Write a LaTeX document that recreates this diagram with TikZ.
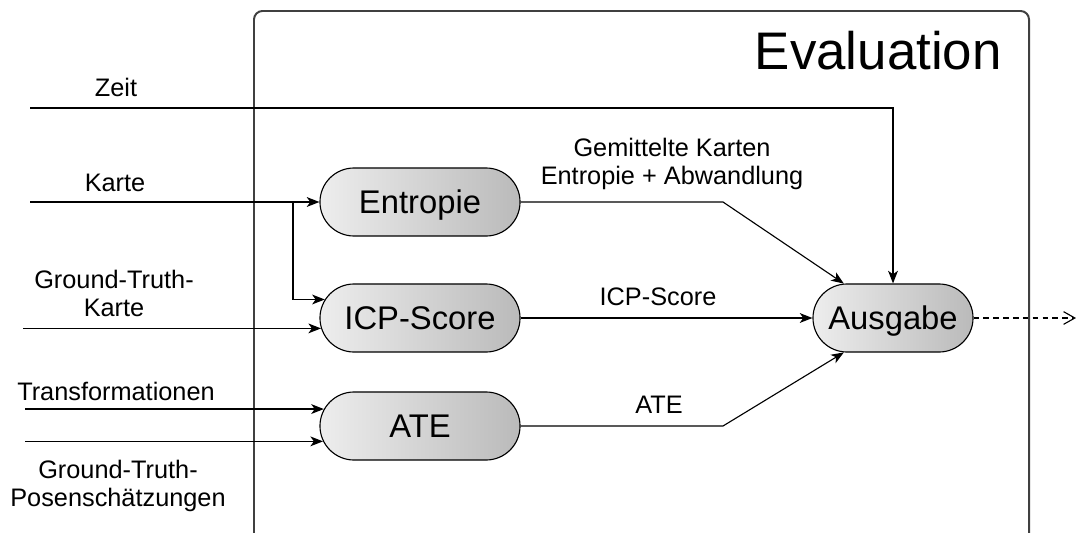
\documentclass[tikz,border=0pt]{standalone}
\usepackage{fontspec}
\setmainfont{Liberation Sans}
\usetikzlibrary{shapes.misc,arrows.meta,positioning}

\begin{document}
\begin{tikzpicture}[x=0.025cm, y=-0.025cm,
  modul/.style={rounded rectangle, draw=black, line width=0.8pt,
                left color=black!7, right color=black!27,
                minimum width=5cm, minimum height=1.7cm, inner sep=0pt,
                text height=16.7pt, text depth=0pt,
                font=\fontsize{23.3}{26}\selectfont},
  lbl/.style={font=\fontsize{18}{20}\selectfont, inner sep=0pt, align=center},
  pfeil/.style={-{Stealth[length=9pt,width=7pt,inset=2.5pt]}, line width=0.8pt}]

\useasboundingbox (0,0) rectangle (1076,532);
\clip (0,0) rectangle (1076,532);

% Rahmen Evaluation
\draw[line width=1.4pt, black!75, rounded corners=6pt] (254,11) rectangle (1029,570);
\node[anchor=base east, inner sep=0pt, font=\fontsize{37.6}{40}\selectfont] (titel) at (1002,70) {Evaluation};

% Module
\node[modul] (entropie) at (420,202) {Entropie};
\node[modul] (icp) at (420,318) {ICP-Score};
\node[modul] (ate) at (420,426) {ATE};
\node[modul, minimum width=4cm] (ausgabe) at (893,318) {Ausgabe};

% Hilfspunkte
\coordinate (zeit) at (30,108);
\coordinate (karte) at (30,202);
\coordinate (gtkarte) at (23,328);
\coordinate (trafo) at (25,409);
\coordinate (gtposen) at (25,441);
\coordinate (abzweig) at (293,202);
\coordinate (knickE) at (723,202);
\coordinate (knickA) at (723,426);
\coordinate (ende) at (1076,318);

% Eingaenge
\draw[pfeil] (zeit) -| (ausgabe.north);
\draw[pfeil] (karte) -- (entropie.west);
\draw[pfeil] (abzweig) |- (icp.169);
\draw[pfeil] (gtkarte |- icp.186) -- (icp.186);
\draw[pfeil] (trafo |- ate.170) -- (ate.170);
\draw[pfeil] (gtposen |- ate.189) -- (ate.189);

% Ausgaenge
\draw[pfeil] (entropie.east) -- (knickE) -- (ausgabe.145);
\draw[pfeil] (icp.east) -- (ausgabe.west);
\draw[pfeil] (ate.east) -- (knickA) -- (ausgabe.215);
\draw[line width=0.8pt, dash pattern=on 4pt off 3pt, -{Straight Barb[length=8pt,width=9pt]}] (ausgabe.east) -- (ende);

% Beschriftungen
\node[lbl, anchor=base] (lzeit) at (116,96) {Zeit};
\node[lbl, anchor=base] (lkarte) at (115,191) {Karte};
\node[lbl, anchor=north] (lgtkarte) at (114,270) {Ground-Truth-\\Karte};
\node[lbl, anchor=base] (ltrafo) at (116,400) {Transformationen};
\node[lbl, anchor=north] (lgtposen) at (118,460) {Ground-Truth-\\Posenschätzungen};
\node[lbl, anchor=north] (lentropie) at (672,138) {Gemittelte Karten\\Entropie + Abwandlung};
\node[lbl, anchor=base] (licp) at (658,305) {ICP-Score};
\node[lbl, anchor=base] (late) at (659,413) {ATE};

\end{tikzpicture}
\end{document}
